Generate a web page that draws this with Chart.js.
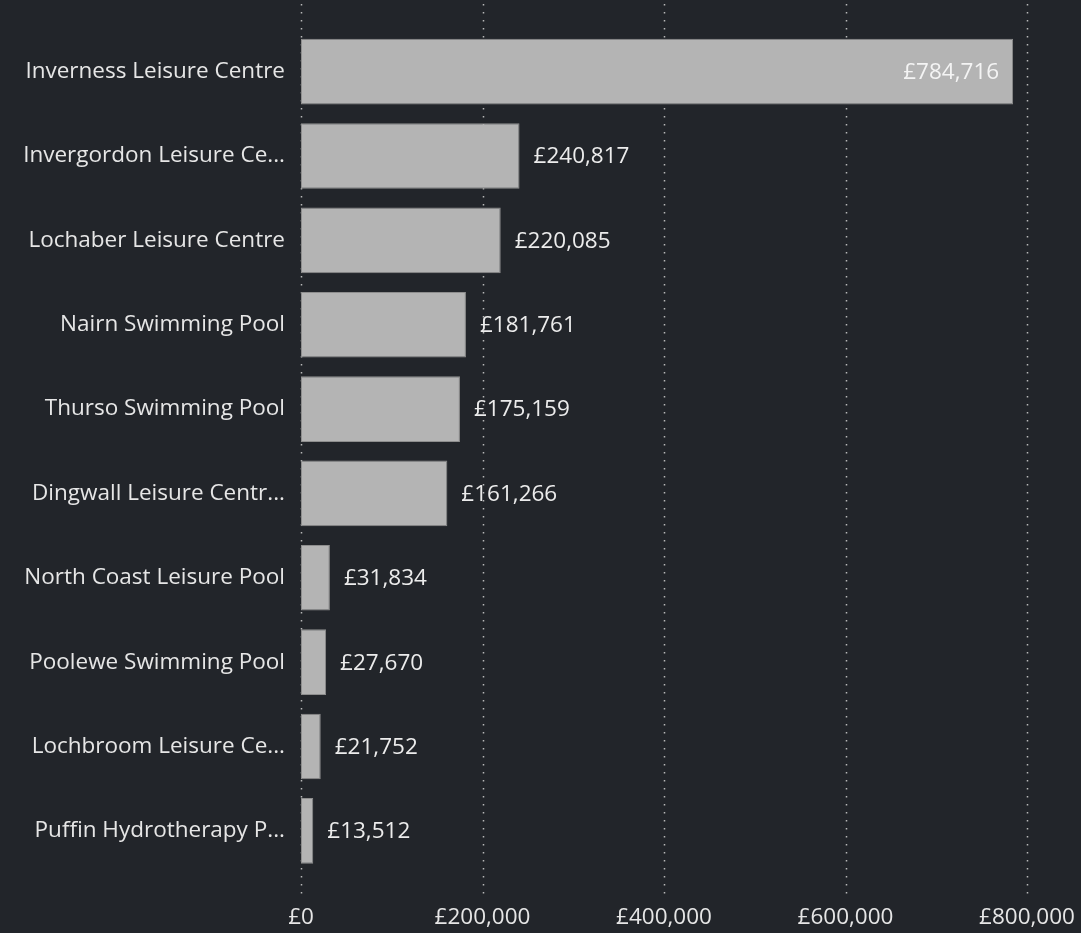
<!DOCTYPE html>
<html>
<head>
<meta charset="utf-8">
<script src="https://cdn.jsdelivr.net/npm/chart.js@4"></script>
<style>
  html, body { margin: 0; padding: 0; background: #22252a; }
  #wrap { width: 1081px; height: 933px; }
</style>
</head>
<body>
<div id="wrap"><canvas id="chart"></canvas></div>
<script>
// Category labels as shown (truncated ones kept as displayed)
const venues = [
  "Inverness Leisure Centre",
  "Invergordon Leisure Ce...",
  "Lochaber Leisure Centre",
  "Nairn Swimming Pool",
  "Thurso Swimming Pool",
  "Dingwall Leisure Centr...",
  "North Coast Leisure Pool",
  "Poolewe Swimming Pool",
  "Lochbroom Leisure Ce...",
  "Puffin Hydrotherapy P..."
]
const income = [784716, 240817, 220085, 181761, 175159, 161266, 31834, 27670, 21752, 13512]
const xTicks = [0, 200000, 400000, 600000, 800000]

const FONT = "'Open Sans', 'Noto Sans', sans-serif"
const FONT_SIZE = 22.5
const gbp = v => "£" + v.toLocaleString("en-GB")

// Dotted vertical grid lines drawn behind the bars
const dottedGrid = {
  id: "dottedGrid",
  beforeDatasetsDraw(chart) {
    const ctx = chart.ctx
    const x = chart.scales.x
    ctx.save()
    ctx.strokeStyle = "rgba(210, 210, 210, 0.85)"
    ctx.lineWidth = 1.5
    ctx.setLineDash([1.5, 6.5])
    x.ticks.forEach(t => {
      const px = Math.round(x.getPixelForValue(t.value)) + 0.5
      ctx.beginPath()
      ctx.moveTo(px, 4)
      ctx.lineTo(px, 900)
      ctx.stroke()
    })
    ctx.restore()
  }
}

// Value labels: outside the bar end, or inside if there is no room
const valueLabels = {
  id: "valueLabels",
  afterDatasetsDraw(chart) {
    const ctx = chart.ctx
    const meta = chart.getDatasetMeta(0)
    const area = chart.chartArea
    ctx.save()
    ctx.font = FONT_SIZE + "px " + FONT
    ctx.textBaseline = "middle"
    meta.data.forEach((bar, i) => {
      const text = gbp(income[i])
      const w = ctx.measureText(text).width
      if (bar.x + 14 + w > area.right) {
        ctx.textAlign = "right"
        ctx.fillStyle = "#f4f4f4"
        ctx.fillText(text, bar.x - 14, bar.y + 1)
      } else {
        ctx.textAlign = "left"
        ctx.fillStyle = "#ececec"
        ctx.fillText(text, bar.x + 14, bar.y + 1)
      }
    })
    ctx.restore()
  }
}

new Chart(document.getElementById("chart"), {
  type: "bar",
  data: {
    labels: venues,
    datasets: [{
      data: income,
      backgroundColor: "#b4b4b4",
      borderColor: "#8e8e8e",
      borderWidth: 1,
      borderSkipped: false,
      barPercentage: 0.88,
      categoryPercentage: 0.885
    }]
  },
  options: {
    indexAxis: "y",
    responsive: true,
    maintainAspectRatio: false,
    animation: false,
    layout: { padding: { top: 28, right: 0, left: 0, bottom: 0 } },
    plugins: {
      legend: { display: false },
      tooltip: { enabled: false }
    },
    scales: {
      x: {
        min: 0,
        max: 800000,
        afterBuildTicks: s => { s.ticks = xTicks.map(v => ({ value: v })) },
        afterFit: s => { s.height = 60; s.paddingRight = 54; s.paddingLeft = 0 },
        grid: { display: false, drawTicks: false },
        border: { display: false },
        ticks: {
          padding: 31,
          color: "#e6e6e6",
          font: { family: FONT, size: FONT_SIZE },
          callback: v => gbp(v)
        }
      },
      y: {
        afterFit: s => { s.width = 301 },
        grid: { display: false, drawTicks: false },
        border: { display: false },
        ticks: {
          padding: 16,
          color: "#e6e6e6",
          font: { family: FONT, size: FONT_SIZE }
        }
      }
    }
  },
  plugins: [dottedGrid, valueLabels]
})
</script>
</body>
</html>
